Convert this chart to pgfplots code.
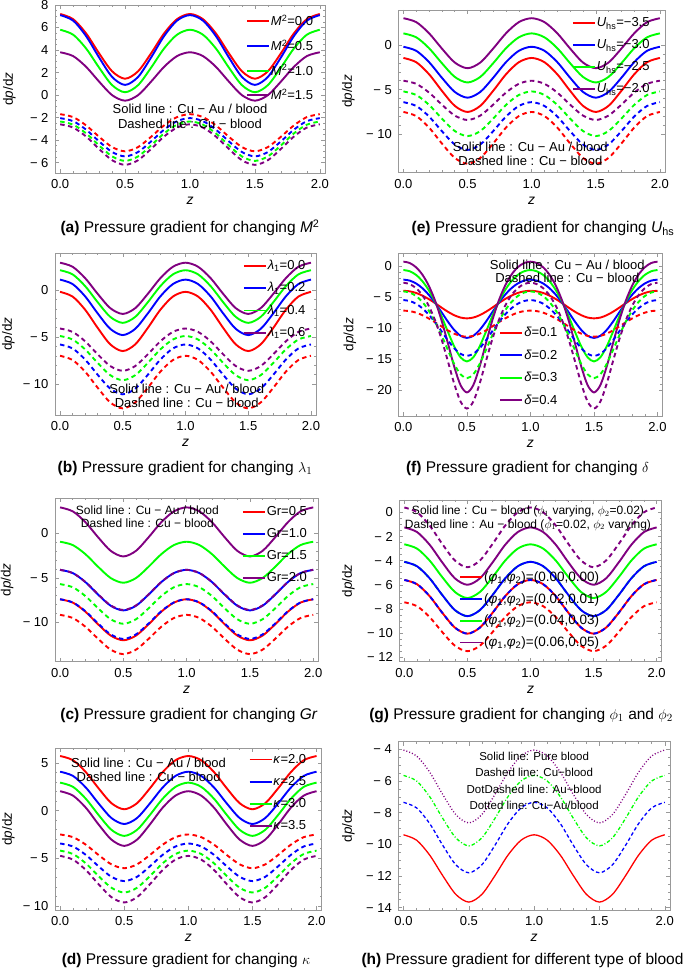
\documentclass[border=0pt]{standalone}
\usepackage{fontspec}
\setmainfont{Liberation Sans}
\usepackage{pgfplots}
\usepackage{pgfplotstable}
\pgfplotsset{compat=1.18}
\definecolor{mred}{rgb}{1,0,0}
\definecolor{mblue}{rgb}{0,0,1}
\definecolor{mgreen}{rgb}{0,1,0}
\definecolor{mpurple}{rgb}{0.5,0,0.5}
\definecolor{framegray}{gray}{0.6}
\newcommand{\fs}[1]{\fontsize{#1}{#1}\selectfont}

% ---------- data ----------
\pgfplotstableread{
z r b g p rd bd gd pd
0.0 7.2 7.1 5.8 3.8 -1.7 -2.05 -2.35 -2.6
0.1 6.74 6.61 5.36 3.46 -1.96 -2.32 -2.63 -2.89
0.2 5.47 5.23 4.13 2.50 -2.70 -3.08 -3.41 -3.69
0.3 3.70 3.33 2.43 1.19 -3.71 -4.12 -4.48 -4.79
0.4 2.11 1.61 0.88 -0.01 -4.62 -5.06 -5.45 -5.79
0.5 1.45 0.9 0.25 -0.5 -5.0 -5.45 -5.85 -6.2
0.6 2.11 1.61 0.88 -0.01 -4.62 -5.06 -5.45 -5.79
0.7 3.70 3.33 2.43 1.19 -3.71 -4.12 -4.48 -4.79
0.8 5.47 5.23 4.13 2.50 -2.70 -3.08 -3.41 -3.69
0.9 6.74 6.61 5.36 3.46 -1.96 -2.32 -2.63 -2.89
1.0 7.2 7.1 5.8 3.8 -1.7 -2.05 -2.35 -2.6
1.1 6.74 6.61 5.36 3.46 -1.96 -2.32 -2.63 -2.89
1.2 5.47 5.23 4.13 2.50 -2.70 -3.08 -3.41 -3.69
1.3 3.70 3.33 2.43 1.19 -3.71 -4.12 -4.48 -4.79
1.4 2.11 1.61 0.88 -0.01 -4.62 -5.06 -5.45 -5.79
1.5 1.45 0.9 0.25 -0.5 -5.0 -5.45 -5.85 -6.2
1.6 2.11 1.61 0.88 -0.01 -4.62 -5.06 -5.45 -5.79
1.7 3.70 3.33 2.43 1.19 -3.71 -4.12 -4.48 -4.79
1.8 5.47 5.23 4.13 2.50 -2.70 -3.08 -3.41 -3.69
1.9 6.74 6.61 5.36 3.46 -1.96 -2.32 -2.63 -2.89
2.0 7.2 7.1 5.8 3.8 -1.7 -2.05 -2.35 -2.6
}\tA

\pgfplotstableread{
z r b g p rd bd gd pd
0.0 -0.2 1.1 2.1 2.9 -7.0 -5.8 -4.9 -4.1
0.1 -0.70 0.63 1.66 2.47 -7.45 -6.22 -5.27 -4.46
0.2 -2.10 -0.68 0.41 1.26 -8.69 -7.40 -6.32 -5.46
0.3 -4.03 -2.49 -1.30 -0.41 -10.40 -9.02 -7.76 -6.84
0.4 -5.78 -4.13 -2.86 -1.93 -11.96 -10.49 -9.06 -8.09
0.5 -6.5 -4.8 -3.5 -2.55 -12.6 -11.1 -9.6 -8.6
0.6 -5.78 -4.13 -2.86 -1.93 -11.96 -10.49 -9.06 -8.09
0.7 -4.03 -2.49 -1.30 -0.41 -10.40 -9.02 -7.76 -6.84
0.8 -2.10 -0.68 0.41 1.26 -8.69 -7.40 -6.32 -5.46
0.9 -0.70 0.63 1.66 2.47 -7.45 -6.22 -5.27 -4.46
1.0 -0.2 1.1 2.1 2.9 -7.0 -5.8 -4.9 -4.1
1.1 -0.70 0.63 1.66 2.47 -7.45 -6.22 -5.27 -4.46
1.2 -2.10 -0.68 0.41 1.26 -8.69 -7.40 -6.32 -5.46
1.3 -4.03 -2.49 -1.30 -0.41 -10.40 -9.02 -7.76 -6.84
1.4 -5.78 -4.13 -2.86 -1.93 -11.96 -10.49 -9.06 -8.09
1.5 -6.5 -4.8 -3.5 -2.55 -12.6 -11.1 -9.6 -8.6
1.6 -5.78 -4.13 -2.86 -1.93 -11.96 -10.49 -9.06 -8.09
1.7 -4.03 -2.49 -1.30 -0.41 -10.40 -9.02 -7.76 -6.84
1.8 -2.10 -0.68 0.41 1.26 -8.69 -7.40 -6.32 -5.46
1.9 -0.70 0.63 1.66 2.47 -7.45 -6.22 -5.27 -4.46
2.0 -0.2 1.1 2.1 2.9 -7.0 -5.8 -4.9 -4.1
}\tB

\pgfplotstableread{
z r b g p rd bd gd pd
0.0 -7.4 -4.1 -0.95 2.9 -9.15 -7.4 -5.7 -4.1
0.1 -7.77 -4.46 -1.32 2.46 -9.50 -7.75 -6.05 -4.46
0.2 -8.79 -5.47 -2.34 1.24 -10.48 -8.74 -7.04 -5.46
0.3 -10.20 -6.87 -3.75 -0.44 -11.83 -10.11 -8.41 -6.84
0.4 -11.47 -8.13 -5.02 -1.97 -13.05 -11.34 -9.64 -8.09
0.5 -12.0 -8.65 -5.55 -2.6 -13.55 -11.85 -10.15 -8.6
0.6 -11.47 -8.13 -5.02 -1.97 -13.05 -11.34 -9.64 -8.09
0.7 -10.20 -6.87 -3.75 -0.44 -11.83 -10.11 -8.41 -6.84
0.8 -8.79 -5.47 -2.34 1.24 -10.48 -8.74 -7.04 -5.46
0.9 -7.77 -4.46 -1.32 2.46 -9.50 -7.75 -6.05 -4.46
1.0 -7.4 -4.1 -0.95 2.9 -9.15 -7.4 -5.7 -4.1
1.1 -7.77 -4.46 -1.32 2.46 -9.50 -7.75 -6.05 -4.46
1.2 -8.79 -5.47 -2.34 1.24 -10.48 -8.74 -7.04 -5.46
1.3 -10.20 -6.87 -3.75 -0.44 -11.83 -10.11 -8.41 -6.84
1.4 -11.47 -8.13 -5.02 -1.97 -13.05 -11.34 -9.64 -8.09
1.5 -12.0 -8.65 -5.55 -2.6 -13.55 -11.85 -10.15 -8.6
1.6 -11.47 -8.13 -5.02 -1.97 -13.05 -11.34 -9.64 -8.09
1.7 -10.20 -6.87 -3.75 -0.44 -11.83 -10.11 -8.41 -6.84
1.8 -8.79 -5.47 -2.34 1.24 -10.48 -8.74 -7.04 -5.46
1.9 -7.77 -4.46 -1.32 2.46 -9.50 -7.75 -6.05 -4.46
2.0 -7.4 -4.1 -0.95 2.9 -9.15 -7.4 -5.7 -4.1
}\tC

\pgfplotstableread{
z r b g p rd bd gd pd
0.0 5.75 4.1 2.95 2.05 -2.5 -3.45 -4.2 -4.75
0.1 5.31 3.66 2.51 1.59 -2.78 -3.76 -4.55 -5.14
0.2 4.06 2.44 1.26 0.32 -3.57 -4.64 -5.53 -6.23
0.3 2.35 0.76 -0.45 -1.45 -4.66 -5.85 -6.88 -7.73
0.4 0.79 -0.77 -2.01 -3.04 -5.64 -6.95 -8.10 -9.09
0.5 0.15 -1.4 -2.65 -3.7 -6.05 -7.4 -8.6 -9.65
0.6 0.79 -0.77 -2.01 -3.04 -5.64 -6.95 -8.10 -9.09
0.7 2.35 0.76 -0.45 -1.45 -4.66 -5.85 -6.88 -7.73
0.8 4.06 2.44 1.26 0.32 -3.57 -4.64 -5.53 -6.23
0.9 5.31 3.66 2.51 1.59 -2.78 -3.76 -4.55 -5.14
1.0 5.75 4.1 2.95 2.05 -2.5 -3.45 -4.2 -4.75
1.1 5.31 3.66 2.51 1.59 -2.78 -3.76 -4.55 -5.14
1.2 4.06 2.44 1.26 0.32 -3.57 -4.64 -5.53 -6.23
1.3 2.35 0.76 -0.45 -1.45 -4.66 -5.85 -6.88 -7.73
1.4 0.79 -0.77 -2.01 -3.04 -5.64 -6.95 -8.10 -9.09
1.5 0.15 -1.4 -2.65 -3.7 -6.05 -7.4 -8.6 -9.65
1.6 0.79 -0.77 -2.01 -3.04 -5.64 -6.95 -8.10 -9.09
1.7 2.35 0.76 -0.45 -1.45 -4.66 -5.85 -6.88 -7.73
1.8 4.06 2.44 1.26 0.32 -3.57 -4.64 -5.53 -6.23
1.9 5.31 3.66 2.51 1.59 -2.78 -3.76 -4.55 -5.14
2.0 5.75 4.1 2.95 2.05 -2.5 -3.45 -4.2 -4.75
}\tD

\pgfplotstableread{
z r b g p rd bd gd pd
0.0 -1.45 -0.2 1.3 3.0 -7.5 -6.4 -5.2 -4.0
0.1 -1.93 -0.65 0.86 2.56 -7.96 -6.83 -5.60 -4.35
0.2 -3.28 -1.92 -0.36 1.31 -9.25 -8.01 -6.71 -5.33
0.3 -5.13 -3.67 -2.04 -0.40 -11.03 -9.65 -8.24 -6.68
0.4 -6.81 -5.25 -3.57 -1.96 -12.64 -11.14 -9.63 -7.90
0.5 -7.5 -5.9 -4.2 -2.6 -13.3 -11.75 -10.2 -8.4
0.6 -6.81 -5.25 -3.57 -1.96 -12.64 -11.14 -9.63 -7.90
0.7 -5.13 -3.67 -2.04 -0.40 -11.03 -9.65 -8.24 -6.68
0.8 -3.28 -1.92 -0.36 1.31 -9.25 -8.01 -6.71 -5.33
0.9 -1.93 -0.65 0.86 2.56 -7.96 -6.83 -5.60 -4.35
1.0 -1.45 -0.2 1.3 3.0 -7.5 -6.4 -5.2 -4.0
1.1 -1.93 -0.65 0.86 2.56 -7.96 -6.83 -5.60 -4.35
1.2 -3.28 -1.92 -0.36 1.31 -9.25 -8.01 -6.71 -5.33
1.3 -5.13 -3.67 -2.04 -0.40 -11.03 -9.65 -8.24 -6.68
1.4 -6.81 -5.25 -3.57 -1.96 -12.64 -11.14 -9.63 -7.90
1.5 -7.5 -5.9 -4.2 -2.6 -13.3 -11.75 -10.2 -8.4
1.6 -6.81 -5.25 -3.57 -1.96 -12.64 -11.14 -9.63 -7.90
1.7 -5.13 -3.67 -2.04 -0.40 -11.03 -9.65 -8.24 -6.68
1.8 -3.28 -1.92 -0.36 1.31 -9.25 -8.01 -6.71 -5.33
1.9 -1.93 -0.65 0.86 2.56 -7.96 -6.83 -5.60 -4.35
2.0 -1.45 -0.2 1.3 3.0 -7.5 -6.4 -5.2 -4.0
}\tE

\pgfplotstableread{
z r b g p rd bd gd pd
0.00 -4.00 -2.20 -0.65 0.70 -7.20 -5.50 -4.10 -2.70
0.05 -4.09 -2.36 -0.85 0.48 -7.28 -5.65 -4.29 -2.92
0.10 -4.35 -2.82 -1.44 -0.21 -7.53 -6.09 -4.85 -3.58
0.15 -4.78 -3.59 -2.46 -1.41 -7.94 -6.83 -5.82 -4.73
0.20 -5.34 -4.65 -3.91 -3.19 -8.47 -7.84 -7.20 -6.45
0.25 -6.00 -5.96 -5.81 -5.63 -9.09 -9.10 -9.00 -8.79
0.30 -6.71 -7.45 -8.10 -8.75 -9.75 -10.52 -11.17 -11.80
0.35 -7.38 -8.97 -10.60 -12.44 -10.39 -11.98 -13.55 -15.34
0.40 -7.94 -10.32 -12.98 -16.23 -10.92 -13.27 -15.81 -18.99
0.45 -8.32 -11.26 -14.74 -19.23 -11.28 -14.17 -17.48 -21.88
0.50 -8.45 -11.60 -15.40 -20.40 -11.40 -14.50 -18.10 -23.00
0.55 -8.32 -11.26 -14.74 -19.23 -11.28 -14.17 -17.48 -21.88
0.60 -7.94 -10.32 -12.98 -16.23 -10.92 -13.27 -15.81 -18.99
0.65 -7.38 -8.97 -10.60 -12.44 -10.39 -11.98 -13.55 -15.34
0.70 -6.71 -7.45 -8.10 -8.75 -9.75 -10.52 -11.17 -11.80
0.75 -6.00 -5.96 -5.81 -5.63 -9.09 -9.10 -9.00 -8.79
0.80 -5.34 -4.65 -3.91 -3.19 -8.47 -7.84 -7.20 -6.45
0.85 -4.78 -3.59 -2.46 -1.41 -7.94 -6.83 -5.82 -4.73
0.90 -4.35 -2.82 -1.44 -0.21 -7.53 -6.09 -4.85 -3.58
0.95 -4.09 -2.36 -0.85 0.48 -7.28 -5.65 -4.29 -2.92
1.00 -4.00 -2.20 -0.65 0.70 -7.20 -5.50 -4.10 -2.70
1.05 -4.09 -2.36 -0.85 0.48 -7.28 -5.65 -4.29 -2.92
1.10 -4.35 -2.82 -1.44 -0.21 -7.53 -6.09 -4.85 -3.58
1.15 -4.78 -3.59 -2.46 -1.41 -7.94 -6.83 -5.82 -4.73
1.20 -5.34 -4.65 -3.91 -3.19 -8.47 -7.84 -7.20 -6.45
1.25 -6.00 -5.96 -5.81 -5.63 -9.09 -9.10 -9.00 -8.79
1.30 -6.71 -7.45 -8.10 -8.75 -9.75 -10.52 -11.17 -11.80
1.35 -7.38 -8.97 -10.60 -12.44 -10.39 -11.98 -13.55 -15.34
1.40 -7.94 -10.32 -12.98 -16.23 -10.92 -13.27 -15.81 -18.99
1.45 -8.32 -11.26 -14.74 -19.23 -11.28 -14.17 -17.48 -21.88
1.50 -8.45 -11.60 -15.40 -20.40 -11.40 -14.50 -18.10 -23.00
1.55 -8.32 -11.26 -14.74 -19.23 -11.28 -14.17 -17.48 -21.88
1.60 -7.94 -10.32 -12.98 -16.23 -10.92 -13.27 -15.81 -18.99
1.65 -7.38 -8.97 -10.60 -12.44 -10.39 -11.98 -13.55 -15.34
1.70 -6.71 -7.45 -8.10 -8.75 -9.75 -10.52 -11.17 -11.80
1.75 -6.00 -5.96 -5.81 -5.63 -9.09 -9.10 -9.00 -8.79
1.80 -5.34 -4.65 -3.91 -3.19 -8.47 -7.84 -7.20 -6.45
1.85 -4.78 -3.59 -2.46 -1.41 -7.94 -6.83 -5.82 -4.73
1.90 -4.35 -2.82 -1.44 -0.21 -7.53 -6.09 -4.85 -3.58
1.95 -4.09 -2.36 -0.85 0.48 -7.28 -5.65 -4.29 -2.92
2.00 -4.00 -2.20 -0.65 0.70 -7.20 -5.50 -4.10 -2.70
}\tF

\pgfplotstableread{
z r b g p rd pd
0.0 -5.6 -4.1 -2.65 -1.25 -7.45 0.4
0.1 -5.95 -4.46 -3.00 -1.63 -7.77 0.01
0.2 -6.94 -5.46 -3.99 -2.68 -8.67 -1.09
0.3 -8.31 -6.84 -5.36 -4.14 -9.91 -2.61
0.4 -9.54 -8.09 -6.59 -5.46 -11.04 -3.98
0.5 -10.05 -8.6 -7.1 -6.0 -11.5 -4.55
0.6 -9.54 -8.09 -6.59 -5.46 -11.04 -3.98
0.7 -8.31 -6.84 -5.36 -4.14 -9.91 -2.61
0.8 -6.94 -5.46 -3.99 -2.68 -8.67 -1.09
0.9 -5.95 -4.46 -3.00 -1.63 -7.77 0.01
1.0 -5.6 -4.1 -2.65 -1.25 -7.45 0.4
1.1 -5.95 -4.46 -3.00 -1.63 -7.77 0.01
1.2 -6.94 -5.46 -3.99 -2.68 -8.67 -1.09
1.3 -8.31 -6.84 -5.36 -4.14 -9.91 -2.61
1.4 -9.54 -8.09 -6.59 -5.46 -11.04 -3.98
1.5 -10.05 -8.6 -7.1 -6.0 -11.5 -4.55
1.6 -9.54 -8.09 -6.59 -5.46 -11.04 -3.98
1.7 -8.31 -6.84 -5.36 -4.14 -9.91 -2.61
1.8 -6.94 -5.46 -3.99 -2.68 -8.67 -1.09
1.9 -5.95 -4.46 -3.00 -1.63 -7.77 0.01
2.0 -5.6 -4.1 -2.65 -1.25 -7.45 0.4
}\tG

\pgfplotstableread{
z r b g p
0.0 -9.4 -7.35 -5.65 -4.05
0.1 -9.74 -7.70 -6.00 -4.42
0.2 -10.68 -8.69 -6.99 -5.44
0.3 -11.98 -10.06 -8.36 -6.85
0.4 -13.16 -11.29 -9.59 -8.12
0.5 -13.65 -11.8 -10.1 -8.65
0.6 -13.16 -11.29 -9.59 -8.12
0.7 -11.98 -10.06 -8.36 -6.85
0.8 -10.68 -8.69 -6.99 -5.44
0.9 -9.74 -7.70 -6.00 -4.42
1.0 -9.4 -7.35 -5.65 -4.05
1.1 -9.74 -7.70 -6.00 -4.42
1.2 -10.68 -8.69 -6.99 -5.44
1.3 -11.98 -10.06 -8.36 -6.85
1.4 -13.16 -11.29 -9.59 -8.12
1.5 -13.65 -11.8 -10.1 -8.65
1.6 -13.16 -11.29 -9.59 -8.12
1.7 -11.98 -10.06 -8.36 -6.85
1.8 -10.68 -8.69 -6.99 -5.44
1.9 -9.74 -7.70 -6.00 -4.42
2.0 -9.4 -7.35 -5.65 -4.05
}\tH

\tikzset{dsh/.style={dash pattern=on 4.5pt off 3.5pt},
  ann/.style={font=\fs{13}, inner sep=0pt},
  anns/.style={font=\fs{12}, inner sep=0pt}}

\pgfplotsset{
  panel/.style={
    scale only axis,
    xmin=-0.04, xmax=2.04,
    xtick={0,0.5,1,1.5,2},
    xticklabels={0.0,0.5,1.0,1.5,2.0},
    minor x tick num=4,
    axis line style={framegray, line width=0.6pt},
    every tick/.style={framegray, line width=0.5pt},
    major tick length=4pt, minor tick length=2.2pt,
    tick align=inside,
    xticklabel style={font=\fs{13}, anchor=center, yshift=-11pt},
    yticklabel style={font=\fs{13}, anchor=east, xshift=-3pt},
    xlabel={\textit{z}},
    ylabel={d\textit{p}/d\textit{z}},
    every axis x label/.style={at={(axis description cs:0.5,0)}, anchor=center, yshift=-28pt, font=\fs{14}},
    every axis y label/.style={rotate=90, anchor=center, font=\fs{13.5}},
    every axis plot/.append style={line width=1.9pt, smooth},
    legend image code/.code={\draw[#1, solid, line cap=butt] (0pt,0pt) -- (22pt,0pt);},
    legend style={draw=none, fill=none, font=\fs{13}, row sep=9.5pt, inner sep=0pt,
      nodes={inner sep=1pt, text=black}, anchor=north west},
    legend cell align=left,
  },
}

\begin{document}
\begin{tikzpicture}
\useasboundingbox (0pt,0pt) rectangle (685pt,971pt);

% ---------------- (a) ----------------
\begin{axis}[panel, at={(55pt,797.7pt)}, anchor=south west, width=270pt, height=168.3pt,
  ymin=-6.95, ymax=8, ytick={-6,-4,-2,0,2,4,6,8},
  yticklabels={{− 6},{− 4},{− 2},0,2,4,6,8}, minor y tick num=3,
  ylabel style={at={(axis description cs:-0.169,0.5)}},
  legend style={at={(0.707,0.947)}, row sep=10.5pt}]
\addplot[mred] table[x=z,y=r]{\tA}; \addlegendentry{\textit{M}\textsuperscript{2}=0.0}
\addplot[mblue] table[x=z,y=b]{\tA}; \addlegendentry{\textit{M}\textsuperscript{2}=0.5}
\addplot[mgreen] table[x=z,y=g]{\tA}; \addlegendentry{\textit{M}\textsuperscript{2}=1.0}
\addplot[mpurple] table[x=z,y=p]{\tA}; \addlegendentry{\textit{M}\textsuperscript{2}=1.5}
\addplot[mred,dsh,forget plot] table[x=z,y=rd]{\tA};
\addplot[mblue,dsh,forget plot] table[x=z,y=bd]{\tA};
\addplot[mgreen,dsh,forget plot] table[x=z,y=gd]{\tA};
\addplot[mpurple,dsh,forget plot] table[x=z,y=pd]{\tA};
\node[ann] at (axis cs:1.0,-1.2) {Solid line : Cu − Au / blood};
\node[ann] at (axis cs:1.0,-2.54) {Dashed line : Cu − blood};
\end{axis}

% ---------------- (e) ----------------
\begin{axis}[panel, at={(398.3pt,798.3pt)}, anchor=south west, width=266.7pt, height=162.7pt,
  ymin=-14.3, ymax=3.92, ytick={-10,-5,0},
  yticklabels={{− 10},{− 5},0}, minor y tick num=4,
  ylabel style={at={(axis description cs:-0.1875,0.5)}},
  legend style={at={(0.650,0.961)}}]
\addplot[mred] table[x=z,y=r]{\tE}; \addlegendentry{\textit{U}\textsubscript{hs}=−3.5}
\addplot[mblue] table[x=z,y=b]{\tE}; \addlegendentry{\textit{U}\textsubscript{hs}=−3.0}
\addplot[mgreen] table[x=z,y=g]{\tE}; \addlegendentry{\textit{U}\textsubscript{hs}=−2.5}
\addplot[mpurple] table[x=z,y=p]{\tE}; \addlegendentry{\textit{U}\textsubscript{hs}=−2.0}
\addplot[mred,dsh,forget plot] table[x=z,y=rd]{\tE};
\addplot[mblue,dsh,forget plot] table[x=z,y=bd]{\tE};
\addplot[mgreen,dsh,forget plot] table[x=z,y=gd]{\tE};
\addplot[mpurple,dsh,forget plot] table[x=z,y=pd]{\tE};
\node[ann] at (axis cs:0.99,-11.39) {Solid line : Cu − Au / blood};
\node[ann] at (axis cs:0.99,-12.96) {Dashed line : Cu − blood};
\end{axis}

% ---------------- (b) ----------------
\begin{axis}[panel, at={(55pt,556pt)}, anchor=south west, width=261pt, height=161.7pt,
  ymin=-13.3, ymax=3.9, ytick={-10,-5,0},
  yticklabels={{− 10},{− 5},0}, minor y tick num=4,
  ylabel style={at={(axis description cs:-0.179,0.5)}},
  legend style={at={(0.719,0.965)}}]
\addplot[mred] table[x=z,y=r]{\tB}; \addlegendentry{\textit{λ}\textsubscript{1}=0.0}
\addplot[mblue] table[x=z,y=b]{\tB}; \addlegendentry{\textit{λ}\textsubscript{1}=0.2}
\addplot[mgreen] table[x=z,y=g]{\tB}; \addlegendentry{\textit{λ}\textsubscript{1}=0.4}
\addplot[mpurple] table[x=z,y=p]{\tB}; \addlegendentry{\textit{λ}\textsubscript{1}=0.6}
\addplot[mred,dsh,forget plot] table[x=z,y=rd]{\tB};
\addplot[mblue,dsh,forget plot] table[x=z,y=bd]{\tB};
\addplot[mgreen,dsh,forget plot] table[x=z,y=gd]{\tB};
\addplot[mpurple,dsh,forget plot] table[x=z,y=pd]{\tB};
\node[ann] at (axis cs:1.01,-10.53) {Solid line : Cu − Au / blood};
\node[ann] at (axis cs:1.01,-12.05) {Dashed line : Cu − blood};
\end{axis}

% ---------------- (f) ----------------
\begin{axis}[panel, at={(398.3pt,555pt)}, anchor=south west, width=264.3pt, height=162.7pt,
  ymin=-24.2, ymax=2.05, ytick={-20,-15,-10,-5,0},
  yticklabels={{− 20},{− 15},{− 10},{− 5},0}, minor y tick num=4,
  ylabel style={at={(axis description cs:-0.183,0.5)}},
  legend style={at={(0.382,0.551)}}]
\addplot[mred] table[x=z,y=r]{\tF}; \addlegendentry{\textit{δ}=0.1}
\addplot[mblue] table[x=z,y=b]{\tF}; \addlegendentry{\textit{δ}=0.2}
\addplot[mgreen] table[x=z,y=g]{\tF}; \addlegendentry{\textit{δ}=0.3}
\addplot[mpurple] table[x=z,y=p]{\tF}; \addlegendentry{\textit{δ}=0.4}
\addplot[mred,dsh,forget plot] table[x=z,y=rd]{\tF};
\addplot[mblue,dsh,forget plot] table[x=z,y=bd]{\tF};
\addplot[mgreen,dsh,forget plot] table[x=z,y=gd]{\tF};
\addplot[mpurple,dsh,forget plot] table[x=z,y=pd]{\tF};
\node[ann] at (axis cs:1.29,0.16) {Solid line : Cu − Au / blood};
\node[ann] at (axis cs:1.29,-1.89) {Dashed line : Cu − blood};
\end{axis}

% ---------------- (c) ----------------
\begin{axis}[panel, at={(55pt,309.3pt)}, anchor=south west, width=263.3pt, height=163.4pt,
  ymin=-14.4, ymax=3.92, ytick={-10,-5,0},
  yticklabels={{− 10},{− 5},0}, minor y tick num=4,
  ylabel style={at={(axis description cs:-0.182,0.5)}},
  legend style={at={(0.709,0.957)}}]
\addplot[mred] table[x=z,y=r]{\tC}; \addlegendentry{Gr=0.5}
\addplot[mblue] table[x=z,y=b]{\tC}; \addlegendentry{Gr=1.0}
\addplot[mgreen] table[x=z,y=g]{\tC}; \addlegendentry{Gr=1.5}
\addplot[mpurple] table[x=z,y=p]{\tC}; \addlegendentry{Gr=2.0}
\addplot[mred,dsh,forget plot] table[x=z,y=rd]{\tC};
\addplot[mblue,dsh,forget plot] table[x=z,y=bd]{\tC};
\addplot[mgreen,dsh,forget plot] table[x=z,y=gd]{\tC};
\addplot[mpurple,dsh,forget plot] table[x=z,y=pd]{\tC};
\node[anns] at (axis cs:0.69,2.55) {Solid line : Cu − Au / blood};
\node[anns] at (axis cs:0.69,1.12) {Dashed line : Cu − blood};
\end{axis}

% ---------------- (g) ----------------
\begin{axis}[panel, at={(399.3pt,309.3pt)}, anchor=south west, width=262.4pt, height=161.7pt,
  ymin=-12.37, ymax=1.02, ytick={-12,-10,-8,-6,-4,-2,0},
  yticklabels={{− 12},{− 10},{− 8},{− 6},{− 4},{− 2},0}, minor y tick num=3,
  ylabel style={at={(axis description cs:-0.194,0.5)}},
  legend style={at={(0.2275,0.565)}, font=\fs{13.5}, row sep=8.5pt}]
\addplot[mgreen,dsh,forget plot] table[x=z,y=b]{\tG};
\addplot[mred] table[x=z,y=r]{\tG}; \addlegendentry{(\textit{φ}\textsubscript{1},\textit{φ}\textsubscript{2})=(0.00,0.00)}
\addplot[mblue] table[x=z,y=b]{\tG}; \addlegendentry{(\textit{φ}\textsubscript{1},\textit{φ}\textsubscript{2})=(0.02,0.01)}
\addplot[mgreen] table[x=z,y=g]{\tG}; \addlegendentry{(\textit{φ}\textsubscript{1},\textit{φ}\textsubscript{2})=(0.04,0.03)}
\addplot[mpurple] table[x=z,y=p]{\tG}; \addlegendentry{(\textit{φ}\textsubscript{1},\textit{φ}\textsubscript{2})=(0.06,0.05)}
\addplot[mred,dsh,forget plot] table[x=z,y=rd]{\tG};
\addplot[mblue,dsh,forget plot] table[x=z,y=r]{\tG};
\addplot[mpurple,dsh,forget plot] table[x=z,y=pd]{\tG};
\node[anns] at (axis cs:0.98,0.08) {Solid line : Cu − blood ($\phi_1$ varying, $\phi_2$=0.02)};
\node[anns] at (axis cs:0.98,-1.05) {Dashed line : Au − blood ($\phi_1$=0.02, $\phi_2$ varying)};
\end{axis}

% ---------------- (d) ----------------
\begin{axis}[panel, at={(55pt,61pt)}, anchor=south west, width=266.7pt, height=161.7pt,
  ymin=-10.44, ymax=6.56, ytick={-10,-5,0,5},
  yticklabels={{− 10},{− 5},0,5}, minor y tick num=4,
  ylabel style={at={(axis description cs:-0.175,0.5)}},
  legend style={at={(0.725,0.971)}}]
\addplot[mred] table[x=z,y=r]{\tD}; \addlegendentry{\textit{κ}=2.0}
\addplot[mblue] table[x=z,y=b]{\tD}; \addlegendentry{\textit{κ}=2.5}
\addplot[mgreen] table[x=z,y=g]{\tD}; \addlegendentry{\textit{κ}=3.0}
\addplot[mpurple] table[x=z,y=p]{\tD}; \addlegendentry{\textit{κ}=3.5}
\addplot[mred,dsh,forget plot] table[x=z,y=rd]{\tD};
\addplot[mblue,dsh,forget plot] table[x=z,y=bd]{\tD};
\addplot[mgreen,dsh,forget plot] table[x=z,y=gd]{\tD};
\addplot[mpurple,dsh,forget plot] table[x=z,y=pd]{\tD};
\node[ann] at (axis cs:0.69,4.98) {Solid line : Cu − Au / blood};
\node[ann] at (axis cs:0.69,3.51) {Dashed line : Cu − blood};
\end{axis}

% ---------------- (h) ----------------
\begin{axis}[panel, at={(398.3pt,61pt)}, anchor=south west, width=271.7pt, height=168.3pt,
  ymin=-14.15, ymax=-3.52, ytick={-14,-12,-10,-8,-6,-4},
  yticklabels={{− 14},{− 12},{− 10},{− 8},{− 6},{− 4}}, minor y tick num=3,
  ylabel style={at={(axis description cs:-0.184,0.5)}},
  every axis plot/.append style={line width=1.3pt}]
\addplot[mred] table[x=z,y=r]{\tH};
\addplot[mblue,dash pattern=on 3.5pt off 2.5pt] table[x=z,y=b]{\tH};
\addplot[mgreen,dash pattern=on 3.5pt off 2pt on 1pt off 2pt] table[x=z,y=g]{\tH};
\addplot[mpurple,dash pattern=on 1pt off 2pt] table[x=z,y=p]{\tH};
\node[font=\fs{11.5}] at (axis cs:1.0,-4.47) {Solid line: Pure blood};
\node[font=\fs{11.5}] at (axis cs:1.0,-5.48) {Dashed line: Cu−blood};
\node[font=\fs{11.5}] at (axis cs:1.0,-6.51) {DotDashed line: Au−blood};
\node[font=\fs{11.5}] at (axis cs:1.0,-7.52) {Dotted line: Cu−Au/blood};
\end{axis}

% ---------------- captions ----------------
\begin{scope}[every node/.style={font=\fs{15.5}}]
\node at (190pt,743pt) {\textbf{(a)} Pressure gradient for changing \textit{M}\textsuperscript{2}};
\node at (543pt,742pt) {\textbf{(e)} Pressure gradient for changing \textit{U}\textsubscript{hs}};
\node at (185pt,502.7pt) {\textbf{(b)} Pressure gradient for changing $\lambda_1$};
\node at (527.5pt,502.7pt) {\textbf{(f)} Pressure gradient for changing $\delta$};
\node at (189pt,256pt) {\textbf{(c)} Pressure gradient for changing \textit{Gr}};
\node at (521pt,255.3pt) {\textbf{(g)} Pressure gradient for changing $\phi_1$ and $\phi_2$};
\node at (186pt,11pt) {\textbf{(d)} Pressure gradient for changing $\kappa$};
\node at (522.5pt,11pt) {\textbf{(h)} Pressure gradient for different type of blood};
\end{scope}
\end{tikzpicture}
\end{document}
